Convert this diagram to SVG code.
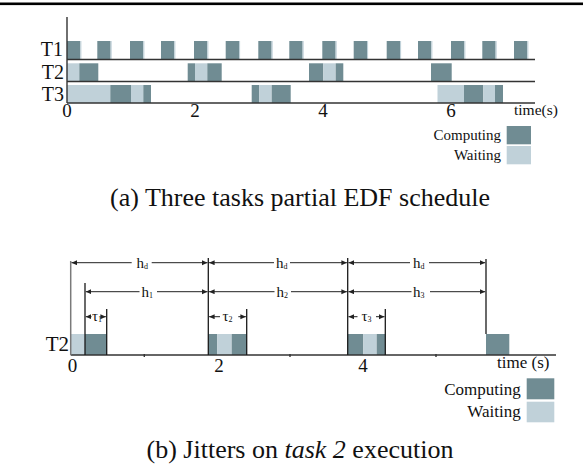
<svg xmlns="http://www.w3.org/2000/svg" width="583" height="470" viewBox="0 0 583 470">
  <style>
    .comp { fill: #708c93; }
    .wait { fill: #c0d1d9; }
    .axis { stroke: #333; stroke-width: 1.4; fill: none; }
    .bar { stroke: #1a1a1a; stroke-width: 1.3; }
    .dim { stroke: #222; stroke-width: 1; fill: none; }
    .serif { font-family: "Liberation Serif", "Times New Roman", serif; fill: #111; }
    .lbl { font-size: 20px; }
    .tick { font-size: 19px; text-anchor: middle; }
    .leg { font-size: 15px; text-anchor: end; }
    .leg2 { font-size: 17px; text-anchor: end; }
    .dimtxt { font-size: 15px; }
    .cap { font-size: 26px; text-anchor: middle; }
  </style>
  <defs>
    <marker id="arrow" markerUnits="userSpaceOnUse" markerWidth="6" markerHeight="6" refX="5.5" refY="2.5" orient="auto">
      <path d="M0,0 L5.5,2.5 L0,5 z" fill="#222"/>
    </marker>
    <!-- one T1 computing slot with its thin trailing gap -->
    <g id="t1slot">
      <rect class="comp" x="0" y="41" width="13.3" height="18.5"/>
      <rect class="wait" x="13.3" y="41" width="1.1" height="18.5"/>
    </g>
  </defs>

  <!-- rule across the top of the page -->
  <rect x="0" y="2.5" width="583" height="2.6" fill="#000"/>

  <!-- ===== (a) three-task schedule ===== -->
  <g id="schedule-a">
    <!-- T1: periodic computing slots -->
    <g id="row-t1">
      <use href="#t1slot" x="67"/>
      <use href="#t1slot" x="97.3"/>
      <use href="#t1slot" x="130"/>
      <use href="#t1slot" x="161"/>
      <use href="#t1slot" x="194"/>
      <use href="#t1slot" x="225.7"/>
      <use href="#t1slot" x="258.3"/>
      <use href="#t1slot" x="289.3"/>
      <use href="#t1slot" x="322.3"/>
      <use href="#t1slot" x="353.7"/>
      <use href="#t1slot" x="386.7"/>
      <use href="#t1slot" x="418"/>
      <use href="#t1slot" x="451"/>
      <use href="#t1slot" x="482.3"/>
      <use href="#t1slot" x="514"/>
      <text class="serif lbl" x="63" y="56" text-anchor="end">T1</text>
    </g>

    <!-- T2 -->
    <g id="row-t2">
      <rect class="wait" x="67" y="63.3" width="12.3" height="18.2"/>
      <rect class="comp" x="79.3" y="63.3" width="19" height="18.2"/>
      <rect class="comp" x="187.7" y="63.3" width="7.3" height="18.2"/>
      <rect class="wait" x="195" y="63.3" width="12.3" height="18.2"/>
      <rect class="comp" x="207.3" y="63.3" width="14.4" height="18.2"/>
      <rect class="comp" x="309" y="63.3" width="14.3" height="18.2"/>
      <rect class="wait" x="323.3" y="63.3" width="12.4" height="18.2"/>
      <rect class="comp" x="335.7" y="63.3" width="7.6" height="18.2"/>
      <rect class="comp" x="431" y="63.3" width="20.7" height="18.2"/>
      <text class="serif lbl" x="64" y="78.5" text-anchor="end">T2</text>
    </g>

    <!-- T3 -->
    <g id="row-t3">
      <rect class="wait" x="67" y="85" width="43.3" height="18"/>
      <rect class="comp" x="110.3" y="85" width="20.7" height="18"/>
      <rect class="wait" x="131" y="85" width="12.3" height="18"/>
      <rect class="comp" x="143.3" y="85" width="7.7" height="18"/>
      <rect class="comp" x="251.7" y="85" width="7.6" height="18"/>
      <rect class="wait" x="259.3" y="85" width="12.4" height="18"/>
      <rect class="comp" x="271.7" y="85" width="19" height="18"/>
      <rect class="wait" x="437.5" y="85" width="26.5" height="18"/>
      <rect class="comp" x="464" y="85" width="19.3" height="18"/>
      <rect class="wait" x="483.3" y="85" width="11.7" height="18"/>
      <rect class="comp" x="495" y="85" width="8" height="18"/>
      <text class="serif lbl" x="64" y="100.5" text-anchor="end">T3</text>
    </g>

    <!-- axes and row baselines -->
    <g id="axes-a">
      <line class="axis" x1="67" y1="17" x2="67" y2="103"/>
      <line class="axis" x1="67" y1="59.5" x2="535" y2="59.5"/>
      <line class="axis" x1="67" y1="81.5" x2="535" y2="81.5"/>
      <line class="axis" x1="67" y1="103" x2="535" y2="103"/>
      <text class="serif tick" x="67" y="117">0</text>
      <text class="serif tick" x="195" y="117">2</text>
      <text class="serif tick" x="323" y="117">4</text>
      <text class="serif tick" x="451" y="117">6</text>
      <text class="serif" x="514" y="115" font-size="15.5">time(s)</text>
    </g>

    <!-- legend -->
    <g id="legend-a">
      <rect class="comp" x="506.7" y="126" width="24.3" height="18.3"/>
      <rect class="wait" x="506.7" y="146" width="24.3" height="18.3"/>
      <text class="serif leg" x="501" y="139.5">Computing</text>
      <text class="serif leg" x="501" y="160">Waiting</text>
    </g>
  </g>

  <text class="serif cap" x="300" y="206">(a) Three tasks partial EDF schedule</text>

  <!-- ===== (b) jitter on task 2 ===== -->
  <g id="schedule-b">
    <g id="t2-jobs">
      <rect class="wait" x="70.7" y="334" width="14.3" height="21"/>
      <rect class="comp" x="85" y="334" width="21.7" height="21"/>
      <rect class="comp" x="208.3" y="334" width="9" height="21"/>
      <rect class="wait" x="217.3" y="334" width="14.4" height="21"/>
      <rect class="comp" x="231.7" y="334" width="15" height="21"/>
      <rect class="comp" x="347.7" y="334" width="15.6" height="21"/>
      <rect class="wait" x="363.3" y="334" width="13.4" height="21"/>
      <rect class="comp" x="376.7" y="334" width="8.6" height="21"/>
      <rect class="comp" x="486" y="334" width="23.3" height="21"/>
      <text class="serif" x="69" y="351" font-size="21" text-anchor="end">T2</text>
    </g>

    <!-- time axis -->
    <g id="axis-b">
      <line class="axis" x1="70.7" y1="355" x2="556" y2="355"/>
      <line class="axis" x1="144.3" y1="354" x2="144.3" y2="357"/>
      <line class="axis" x1="290" y1="354" x2="290" y2="357"/>
      <line class="axis" x1="436" y1="354" x2="436" y2="357"/>
      <text class="serif tick" x="72.5" y="372" font-size="18">0</text>
      <text class="serif tick" x="219" y="372" font-size="18">2</text>
      <text class="serif tick" x="363" y="372" font-size="18">4</text>
      <text class="serif" x="497" y="368" font-size="17">time (s)</text>
    </g>

    <!-- release / deadline bars -->
    <g id="bars">
      <line x1="70.7" y1="261" x2="70.7" y2="355" stroke="#7a7a7a" stroke-width="1.5"/>
      <line class="bar" x1="85" y1="283" x2="85" y2="355"/>
      <line class="bar" x1="106.7" y1="309" x2="106.7" y2="355"/>
      <line class="bar" x1="208.3" y1="258" x2="208.3" y2="355"/>
      <line class="bar" x1="246.7" y1="309" x2="246.7" y2="355"/>
      <line class="bar" x1="347.7" y1="258" x2="347.7" y2="355"/>
      <line class="bar" x1="385.3" y1="309" x2="385.3" y2="355"/>
      <line class="bar" x1="486" y1="259" x2="486" y2="334"/>
    </g>

    <!-- dimension arrows -->
    <g id="connectors">
      <!-- hd row -->
      <line class="dim" x1="131.7" y1="262.7" x2="71.5" y2="262.7" marker-end="url(#arrow)"/>
      <line class="dim" x1="151.7" y1="262.7" x2="207.5" y2="262.7" marker-end="url(#arrow)"/>
      <line class="dim" x1="274" y1="262.7" x2="209.1" y2="262.7" marker-end="url(#arrow)"/>
      <line class="dim" x1="290" y1="262.7" x2="346.9" y2="262.7" marker-end="url(#arrow)"/>
      <line class="dim" x1="410" y1="262.7" x2="348.5" y2="262.7" marker-end="url(#arrow)"/>
      <line class="dim" x1="429" y1="262.7" x2="485.2" y2="262.7" marker-end="url(#arrow)"/>
      <!-- h1..h3 row -->
      <line class="dim" x1="139.5" y1="291.7" x2="85.8" y2="291.7" marker-end="url(#arrow)"/>
      <line class="dim" x1="157" y1="291.7" x2="207.5" y2="291.7" marker-end="url(#arrow)"/>
      <line class="dim" x1="274.5" y1="291.7" x2="209.1" y2="291.7" marker-end="url(#arrow)"/>
      <line class="dim" x1="291" y1="291.7" x2="346.9" y2="291.7" marker-end="url(#arrow)"/>
      <line class="dim" x1="411.5" y1="291.7" x2="348.5" y2="291.7" marker-end="url(#arrow)"/>
      <line class="dim" x1="430" y1="291.7" x2="485.2" y2="291.7" marker-end="url(#arrow)"/>
      <!-- tau row -->
      <line class="dim" x1="91.5" y1="316.7" x2="85.8" y2="316.7" marker-end="url(#arrow)"/>
      <line class="dim" x1="101" y1="316.7" x2="105.9" y2="316.7" marker-end="url(#arrow)"/>
      <line class="dim" x1="220" y1="316.7" x2="209.1" y2="316.7" marker-end="url(#arrow)"/>
      <line class="dim" x1="238.3" y1="316.7" x2="245.9" y2="316.7" marker-end="url(#arrow)"/>
      <line class="dim" x1="357.5" y1="316.7" x2="348.5" y2="316.7" marker-end="url(#arrow)"/>
      <line class="dim" x1="376" y1="316.7" x2="384.5" y2="316.7" marker-end="url(#arrow)"/>
    </g>

    <!-- dimension labels -->
    <g id="dim-labels">
      <text class="serif dimtxt" x="136.5" y="267.5">h<tspan font-size="8" dy="1">d</tspan></text>
      <text class="serif dimtxt" x="276" y="267.5">h<tspan font-size="8" dy="1">d</tspan></text>
      <text class="serif dimtxt" x="413" y="267.5">h<tspan font-size="8" dy="1">d</tspan></text>
      <text class="serif dimtxt" x="141.5" y="296.5">h<tspan font-size="8" dy="1">1</tspan></text>
      <text class="serif dimtxt" x="276.5" y="296.5">h<tspan font-size="8" dy="1">2</tspan></text>
      <text class="serif dimtxt" x="413" y="296.5">h<tspan font-size="8" dy="1">3</tspan></text>
      <text class="serif dimtxt" x="92" y="321">τ<tspan font-size="8" dy="1">1</tspan></text>
      <text class="serif dimtxt" x="222.5" y="321">τ<tspan font-size="8" dy="1">2</tspan></text>
      <text class="serif dimtxt" x="361.5" y="321">τ<tspan font-size="8" dy="1">3</tspan></text>
    </g>

    <!-- legend -->
    <g id="legend-b">
      <rect class="comp" x="526.7" y="378.3" width="27.6" height="21"/>
      <rect class="wait" x="526.7" y="401.7" width="27.6" height="20.6"/>
      <text class="serif leg2" x="520.7" y="394.5">Computing</text>
      <text class="serif leg2" x="520.7" y="417">Waiting</text>
    </g>
  </g>

  <text class="serif cap" x="300" y="458">(b) Jitters on <tspan font-style="italic">task 2</tspan> execution</text>
</svg>
